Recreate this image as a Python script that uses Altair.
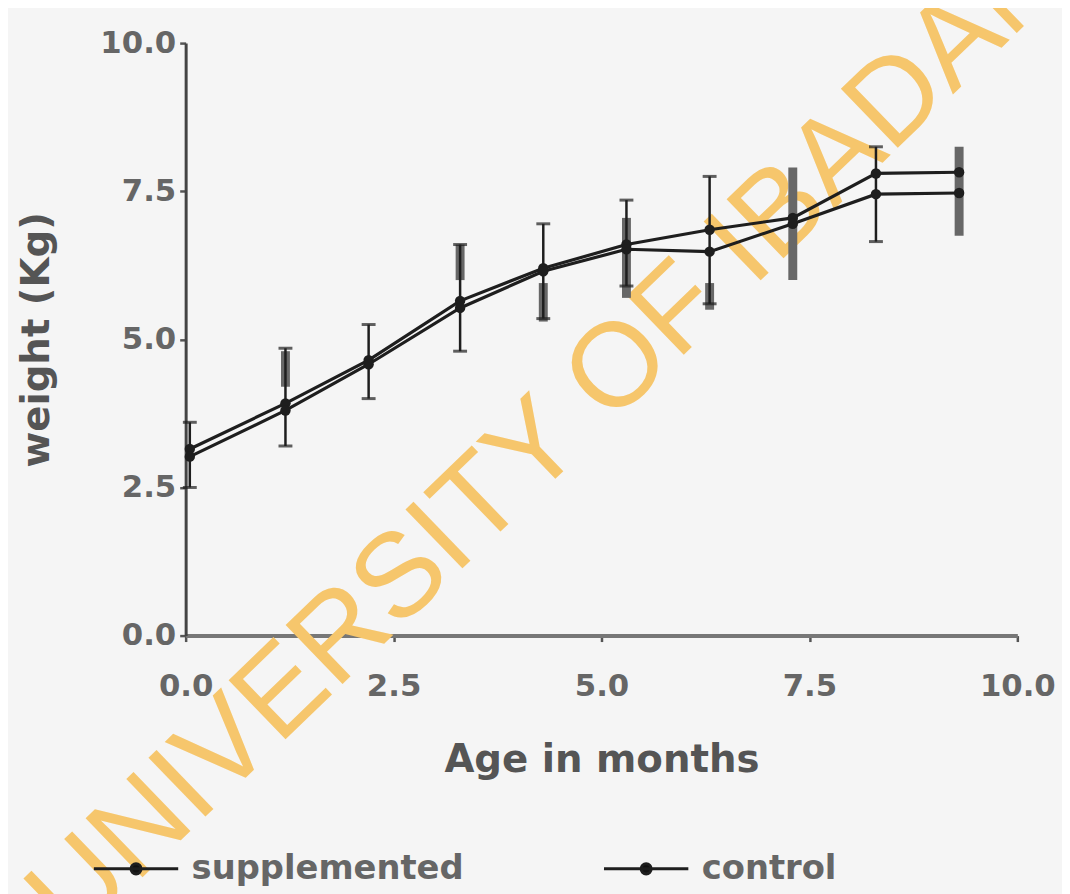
import altair as alt
import pandas as pd

# ---- data ----
age = [0.05, 1.2, 2.2, 3.3, 4.3, 5.3, 6.3, 7.3, 8.3, 9.3]
supplemented = [3.15, 3.92, 4.65, 5.65, 6.2, 6.6, 6.85, 7.05, 7.8, 7.82]
control = [3.02, 3.8, 4.58, 5.53, 6.15, 6.52, 6.48, 6.95, 7.45, 7.47]

err_age = [0.05, 1.2, 2.2, 3.3, 4.3, 5.3, 6.3, 8.3]
err_low = [2.5, 3.2, 4.0, 4.8, 5.35, 5.9, 5.6, 6.65]
err_high = [3.6, 4.85, 5.25, 6.6, 6.95, 7.35, 7.75, 8.25]

bar_age = [1.2, 3.3, 4.3, 5.3, 6.3, 7.3, 9.3]
bar_low = [4.2, 6.0, 5.3, 5.7, 5.5, 6.0, 6.75]
bar_high = [4.8, 6.6, 5.95, 7.05, 5.95, 7.9, 8.25]

series_names = ["supplemented", "control"]
ticks = [0.0, 2.5, 5.0, 7.5, 10.0]
watermark = ["UNIVERSITY OF IBADAN"]

# ---- tables ----
lines_df = pd.DataFrame(
    {"age": age * 2,
     "weight": supplemented + control,
     "series": ["supplemented"] * len(age) + ["control"] * len(age)}
)
err_df = pd.DataFrame({"age": err_age, "lo": err_low, "hi": err_high})
bar_df = pd.DataFrame({"age": bar_age, "lo": bar_low, "hi": bar_high})
wm_df = pd.DataFrame({"t": watermark})

FONT = "DejaVu Sans"
WMFONT = "Liberation Sans"
TXT = "#666666"
INK = "#1e1e1e"

xs = alt.Scale(domain=[0, 10], nice=False, zero=False)
ys = alt.Scale(domain=[0, 10], nice=False, zero=False)

x_axis = alt.Axis(values=ticks, format=".1f", title="Age in months",
                  labelPadding=30, titlePadding=40, tickSize=6, labelFlush=False,
                  domainColor="#777777", domainWidth=4)
y_axis = alt.Axis(values=ticks, format=".1f", title="weight (Kg)",
                  labelPadding=4, titlePadding=44, tickSize=6, labelFlush=False)

wm = alt.Chart(wm_df).mark_text(
    font=WMFONT, fontSize=120, color="#f6c66c", angle=316,
    align="center", baseline="middle"
).encode(text="t:N", x=alt.value(365), y=alt.value(396))

gray = alt.Chart(bar_df).mark_rule(color="#676767", strokeWidth=9).encode(
    x=alt.X("age:Q", scale=xs, axis=x_axis),
    y=alt.Y("lo:Q", scale=ys, axis=y_axis),
    y2="hi:Q",
)

err = alt.Chart(err_df).mark_rule(color=INK, strokeWidth=2.5).encode(
    x=alt.X("age:Q", scale=xs), y=alt.Y("lo:Q", scale=ys), y2="hi:Q"
)
cap_lo = alt.Chart(err_df).mark_tick(color=INK, orient="horizontal", size=14, thickness=3).encode(
    x=alt.X("age:Q", scale=xs), y=alt.Y("lo:Q", scale=ys)
)
cap_hi = alt.Chart(err_df).mark_tick(color=INK, orient="horizontal", size=14, thickness=3).encode(
    x=alt.X("age:Q", scale=xs), y=alt.Y("hi:Q", scale=ys)
)

line = alt.Chart(lines_df).mark_line(strokeWidth=3.2).encode(
    x=alt.X("age:Q", scale=xs),
    y=alt.Y("weight:Q", scale=ys),
    color=alt.Color(
        "series:N",
        scale=alt.Scale(domain=series_names, range=[INK, INK]),
        legend=alt.Legend(
            orient="none", legendX=-94, legendY=788, direction="horizontal",
            title=None, padding=0,
            symbolType="M-1,0L1,0M-0.12,0A0.12,0.12 0 1,0 0.12,0A0.12,0.12 0 1,0 -0.12,0Z",
            symbolSize=7225, symbolStrokeWidth=3,
            symbolStrokeColor="#333333", symbolFillColor="#111111",
            labelFont=FONT, labelFontWeight="bold", labelFontSize=34,
            labelColor=TXT, labelOffset=12, labelLimit=0, columnPadding=134,
        ),
    ),
    detail="series:N",
)

pts = alt.Chart(lines_df).mark_circle(size=110, color=INK, opacity=1).encode(
    x=alt.X("age:Q", scale=xs), y=alt.Y("weight:Q", scale=ys)
)

chart = (
    alt.layer(wm, gray, err, cap_lo, cap_hi, line, pts)
    .properties(
        width=838, height=597,
        padding={"left": 179, "top": 32, "right": 45, "bottom": 257},
        autosize=alt.AutoSizeParams(type="none"),
        background="#f5f5f5",
    )
    .configure_view(stroke=None)
    .configure_axis(
        grid=False, domainColor="#444444", domainWidth=3,
        tickColor="#555555", tickWidth=2.5, zindex=1,
        labelFont=FONT, labelFontWeight="bold", labelFontSize=31, labelColor=TXT,
        titleFont=FONT, titleFontWeight="bold", titleFontSize=39, titleColor="#555555",
    )
)

chart.save("out.html", embed_options={"renderer": "svg", "actions": False})
